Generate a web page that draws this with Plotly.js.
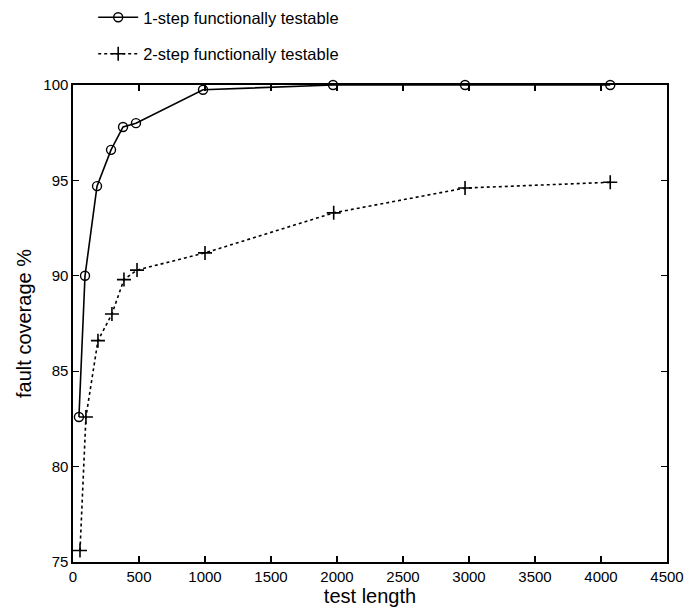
<!DOCTYPE html>
<html>
<head>
<meta charset="utf-8">
<script src="https://cdn.plot.ly/plotly-3.0.1.min.js"></script>
<style>html,body{margin:0;padding:0;background:#fff;}#chart{width:689px;height:608px;}</style>
</head>
<body>
<div id="chart"></div>
<script>
// Test lengths (x) and fault coverage (%)
const testLength1 = [45, 91, 182, 288, 379, 477, 985, 1970, 2970, 4070];
const coverage1   = [82.6, 90.0, 94.7, 96.6, 97.8, 98.0, 99.75, 100.0, 100.0, 100.0];

const testLength2 = [53, 98, 189, 295, 386, 485, 1000, 1975, 2970, 4070];
const coverage2   = [75.6, 82.6, 86.6, 88.0, 89.8, 90.3, 91.2, 93.3, 94.6, 94.9];

const seriesNames = ["1-step functionally testable", "2-step functionally testable"];
const xTicks = [0, 500, 1000, 1500, 2000, 2500, 3000, 3500, 4000, 4500];
const yTicks = [75, 80, 85, 90, 95, 100];

const fontFam = "Liberation Sans, Arial, sans-serif";

const traces = [
  {
    x: testLength1, y: coverage1, name: seriesNames[0],
    type: "scatter", mode: "lines+markers", cliponaxis: false,
    legendgroup: "a",
    line: {color: "#000", width: 1.6},
    marker: {symbol: "circle-open", size: 9, color: "#000", line: {width: 1.4, color: "#000"}}
  },
  {
    x: testLength2, y: coverage2, name: seriesNames[1],
    type: "scatter", mode: "lines+markers", cliponaxis: false,
    legendgroup: "b",
    line: {color: "#000", width: 1.6, dash: "dot"},
    marker: {symbol: "cross-thin-open", size: 10, color: "#000", line: {width: 1.6, color: "#000"}}
  }
];

const layout = {
  width: 689, height: 608,
  paper_bgcolor: "#fff", plot_bgcolor: "#fff",
  margin: {l: 73, r: 22, t: 85, b: 46},
  font: {family: fontFam, color: "#000", size: 15},
  showlegend: true,
  legend: {
    x: 0.034, xanchor: "left",
    yref: "container", y: 1.0, yanchor: "top",
    font: {family: fontFam, size: 16.5, color: "#000"},
    tracegroupgap: 12, traceorder: "grouped",
    bgcolor: "rgba(0,0,0,0)", itemwidth: 40
  },
  xaxis: {
    range: [0, 4500], tickvals: xTicks, ticktext: xTicks.map(String),
    ticks: "inside", ticklen: 6, tickwidth: 1.2, tickcolor: "#000",
    showline: true, linecolor: "#000", linewidth: 1.6, mirror: "ticks",
    showgrid: false, zeroline: false,
    tickfont: {family: fontFam, size: 15, color: "#000"},
    title: {text: "test length", font: {family: fontFam, size: 20, color: "#000"}, standoff: 0}
  },
  yaxis: {
    range: [75, 100], tickvals: yTicks, ticktext: yTicks.map(String),
    ticks: "inside", ticklen: 6, tickwidth: 1.2, tickcolor: "#000",
    showline: true, linecolor: "#000", linewidth: 1.6, mirror: "ticks",
    showgrid: false, zeroline: false,
    tickfont: {family: fontFam, size: 15, color: "#000"},
    title: {text: "fault coverage %", font: {family: fontFam, size: 20, color: "#000"}, standoff: 6}
  }
};

Plotly.newPlot("chart", traces, layout, {displayModeBar: false, staticPlot: true});
</script>
</body>
</html>
